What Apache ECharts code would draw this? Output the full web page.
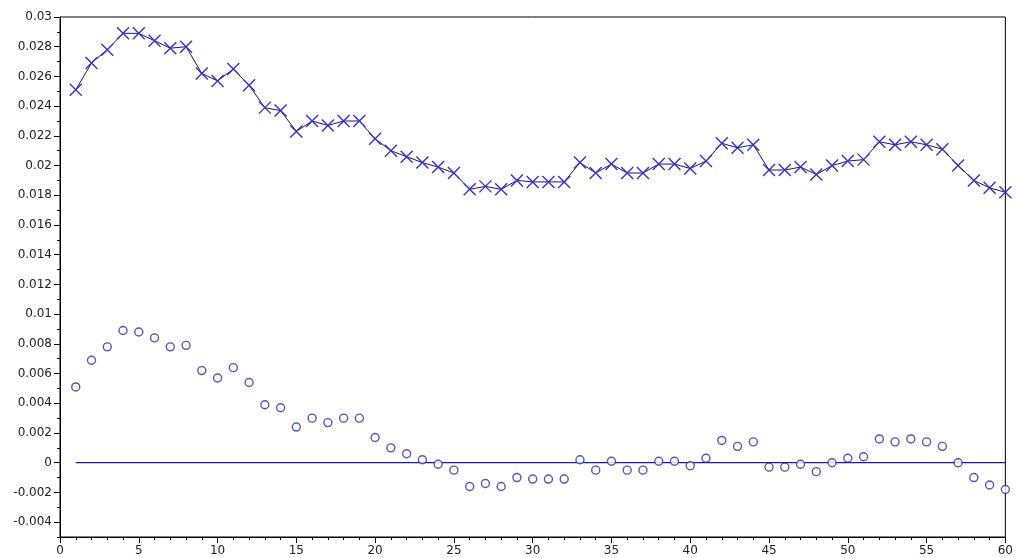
<!DOCTYPE html>
<html>
<head>
<meta charset="utf-8">
<title>Series and offset residuals</title>
<script src="https://cdn.jsdelivr.net/npm/echarts@6/dist/echarts.min.js"></script>
<style>
  html, body { margin: 0; padding: 0; background: #ffffff; }
  #chart { width: 1016px; height: 558px; }
</style>
</head>
<body>
<div id="chart"></div>
<script>
// Sample index 1..60
const steps = Array.from({ length: 60 }, (_, i) => i + 1);

// Upper curve (crosses joined by a line)
const levelValues = [
  0.0251, 0.0269, 0.0278, 0.0289, 0.0289, 0.0284, 0.0279, 0.0280, 0.0262, 0.0257,
  0.0265, 0.0254, 0.0239, 0.0237, 0.0223, 0.0230, 0.0227, 0.0230, 0.0230, 0.0218,
  0.0210, 0.0206, 0.0202, 0.0199, 0.0195, 0.0184, 0.0186, 0.0184, 0.0190, 0.0189,
  0.0189, 0.0189, 0.0202, 0.0195, 0.0201, 0.0195, 0.0195, 0.0201, 0.0201, 0.0198,
  0.0203, 0.0215, 0.0212, 0.0214, 0.0197, 0.0197, 0.0199, 0.0194, 0.0200, 0.0203,
  0.0204, 0.0216, 0.0214, 0.0216, 0.0214, 0.0211, 0.0200, 0.0190, 0.0185, 0.0182
];

// Lower points (open circles)
const offsetValues = [
  0.0051, 0.0069, 0.0078, 0.0089, 0.0088, 0.0084, 0.0078, 0.0079, 0.0062, 0.0057,
  0.0064, 0.0054, 0.0039, 0.0037, 0.0024, 0.0030, 0.0027, 0.0030, 0.0030, 0.0017,
  0.0010, 0.0006, 0.0002, -0.0001, -0.0005, -0.0016, -0.0014, -0.0016, -0.0010, -0.0011,
  -0.0011, -0.0011, 0.0002, -0.0005, 0.0001, -0.0005, -0.0005, 0.0001, 0.0001, -0.0002,
  0.0003, 0.0015, 0.0011, 0.0014, -0.0003, -0.0003, -0.0001, -0.0006, 0.0000, 0.0003,
  0.0004, 0.0016, 0.0014, 0.0016, 0.0014, 0.0011, 0.0000, -0.0010, -0.0015, -0.0018
];

// Reference line at zero
const zeroLine = [[1, 0], [60, 0]];

// Axis ranges
const xMin = 0, xMax = 60, xStep = 5;
const yMin = -0.005, yMax = 0.03, yStep = 0.001;
const yMajorTicks = [-0.004, -0.002, 0, 0.002, 0.004, 0.006, 0.008, 0.01, 0.012, 0.014,
  0.016, 0.018, 0.02, 0.022, 0.024, 0.026, 0.028, 0.03];

const levelPoints = steps.map((s, i) => [s, levelValues[i]]);
const offsetPoints = steps.map((s, i) => [s, offsetValues[i]]);

const fmt = v => String(Number(v.toFixed(4)));
const labelFont = { fontFamily: 'DejaVu Sans, Verdana, sans-serif', fontSize: 12, color: '#222' };

const chart = echarts.init(document.getElementById('chart'), null, { renderer: 'canvas' });
chart.setOption({
  backgroundColor: '#ffffff',
  animation: false,
  grid: {
    left: 60, right: 8, top: 17, bottom: 21,
    show: true, borderColor: '#000', borderWidth: 1, backgroundColor: 'transparent'
  },
  xAxis: {
    type: 'value',
    min: xMin, max: xMax, interval: xStep,
    axisLine: { show: true, onZero: false, lineStyle: { color: '#000', width: 1 } },
    axisTick: { show: true, length: 6, lineStyle: { color: '#000' } },
    minorTick: { show: true, splitNumber: 5, length: 3, lineStyle: { color: '#000' } },
    splitLine: { show: false },
    axisLabel: Object.assign({ margin: 8, formatter: v => fmt(v) }, labelFont)
  },
  yAxis: [
    {
      type: 'value',
      min: yMin, max: yMax, interval: yStep,
      axisLine: { show: true, onZero: false, lineStyle: { color: '#000', width: 1 } },
      axisTick: { show: true, length: 3, lineStyle: { color: '#000' } },
      splitLine: { show: false },
      axisLabel: Object.assign({
        margin: 8,
        formatter: v => (Math.abs(Math.round(v * 1000)) % 2 === 0 ? fmt(v) : '')
      }, labelFont)
    },
    {
      type: 'value',
      position: 'left',
      min: yMin, max: yMax,
      axisLine: { show: false },
      axisTick: { show: true, length: 6, customValues: yMajorTicks, lineStyle: { color: '#000' } },
      axisLabel: { show: false },
      splitLine: { show: false }
    }
  ],
  series: [
    {
      name: 'zero',
      type: 'line',
      data: zeroLine,
      symbol: 'none',
      lineStyle: { color: '#1c1ca8', width: 1.3 },
      z: 1
    },
    {
      name: 'level',
      type: 'line',
      data: levelPoints,
      symbol: 'path://M0,0L10,10M10,0L0,10',
      symbolSize: 12,
      showAllSymbol: true,
      itemStyle: { color: '#3333cc', borderColor: '#3333cc', borderWidth: 1.4 },
      lineStyle: { color: '#1a1a55', width: 1 },
      z: 3
    },
    {
      name: 'offset',
      type: 'scatter',
      data: offsetPoints,
      symbol: 'circle',
      symbolSize: 8,
      itemStyle: { color: '#ffffff', borderColor: '#2b2ba8', borderWidth: 1.4 },
      z: 3
    }
  ]
});
</script>
</body>
</html>
